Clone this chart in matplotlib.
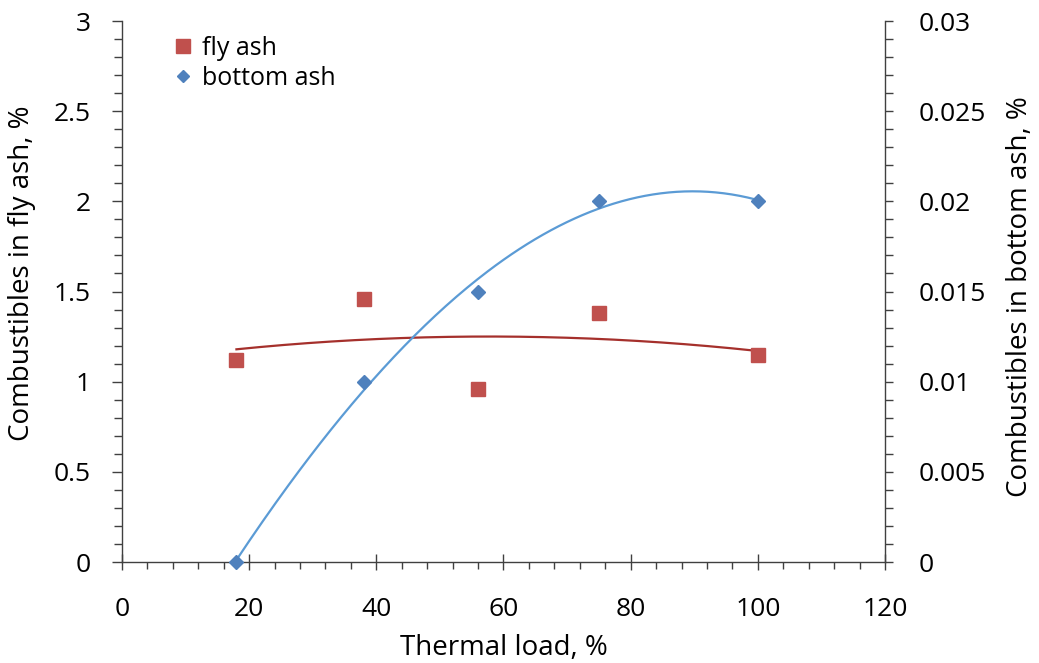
import numpy as np
import matplotlib
matplotlib.use("Agg")
import matplotlib.pyplot as plt
from matplotlib.ticker import MultipleLocator, FuncFormatter
from matplotlib.lines import Line2D

plt.rcParams['font.family'] = ['Open Sans', 'DejaVu Sans']

thermal_load = [18, 38, 56, 75, 100]
fly_ash = [1.12, 1.46, 0.96, 1.38, 1.15]
bottom_ash = [0.0, 0.010, 0.015, 0.020, 0.020]

fly_color = '#C0504D'
bot_color = '#4F81BD'
fly_line = '#A5302C'
bot_line = '#5B9BD5'

fig = plt.figure(figsize=(10.39, 6.63), dpi=100)
ax = fig.add_axes([0.1174, 0.1523, 0.7344, 0.8160])
ax2 = ax.twinx()

xs = np.linspace(min(thermal_load), max(thermal_load), 200)
pf = np.polyfit(thermal_load, fly_ash, 2)
pb = np.polyfit(thermal_load, bottom_ash, 3)

ax.plot(xs, np.polyval(pf, xs), color=fly_line, lw=1.6, zorder=2)
ax.plot(thermal_load, fly_ash, 's', color=fly_color, ms=9.5, zorder=3, clip_on=False)
ax2.plot(xs, np.polyval(pb, xs), color=bot_line, lw=1.6, zorder=2)
ax2.plot(thermal_load, bottom_ash, 'D', color=bot_color, ms=7, zorder=3, clip_on=False)

ax.set_xlim(0, 120)
ax.set_ylim(0, 3)
ax2.set_ylim(0, 0.03)

ax.xaxis.set_major_locator(MultipleLocator(20))
ax.xaxis.set_minor_locator(MultipleLocator(4))
ax.yaxis.set_major_locator(MultipleLocator(0.5))
ax.yaxis.set_minor_locator(MultipleLocator(0.1))
ax2.yaxis.set_major_locator(MultipleLocator(0.005))
ax2.yaxis.set_minor_locator(MultipleLocator(0.001))

ax.yaxis.set_major_formatter(FuncFormatter(lambda v, p: f"{v:g}"))
ax2.yaxis.set_major_formatter(FuncFormatter(lambda v, p: f"{round(v, 4):g}"))

spine_c = '#404040'
for a in (ax, ax2):
    a.spines['top'].set_visible(False)
    for s in ('left', 'right', 'bottom'):
        a.spines[s].set_color(spine_c)
        a.spines[s].set_linewidth(1.0)
ax.spines['right'].set_visible(False)
ax2.spines['left'].set_visible(False)
ax2.spines['bottom'].set_visible(False)

tick_fs = 19
ax.tick_params(axis='x', which='major', direction='inout', length=12, width=1, color=spine_c,
               labelsize=tick_fs, pad=19)
ax.tick_params(axis='x', which='minor', direction='out', length=5, width=1, color=spine_c)
ax.tick_params(axis='y', which='major', direction='out', length=7, width=1, color=spine_c,
               labelsize=tick_fs, pad=15.5)
ax.tick_params(axis='y', which='minor', direction='out', length=6, width=1, color=spine_c)
ax2.tick_params(axis='y', which='major', direction='out', length=6, width=1, color=spine_c,
                labelsize=tick_fs, pad=18)
ax2.tick_params(axis='y', which='minor', direction='out', length=6, width=1, color=spine_c)

lab_fs = 20
ax.set_xlabel('Thermal load, %', fontsize=lab_fs, labelpad=9)
ax.set_ylabel('Combustibles in fly ash, %', fontsize=lab_fs)
ax2.set_ylabel('Combustibles in bottom ash, %', fontsize=lab_fs)
ax.yaxis.set_label_coords(-0.113, 0.534)
ax2.yaxis.set_label_coords(1.1586, 0.49)

handles = [Line2D([], [], ls='none', marker='s', color=fly_color, ms=9.5),
           Line2D([], [], ls='none', marker='D', color=bot_color, ms=6)]
leg = ax.legend(handles, ['fly ash', 'bottom ash'], loc='upper left',
                bbox_to_anchor=(0.0345, 1.014), frameon=False, fontsize=18,
                handletextpad=0.25, labelspacing=0.2, handlelength=1.0)

fig.savefig('out.png', dpi=100)
